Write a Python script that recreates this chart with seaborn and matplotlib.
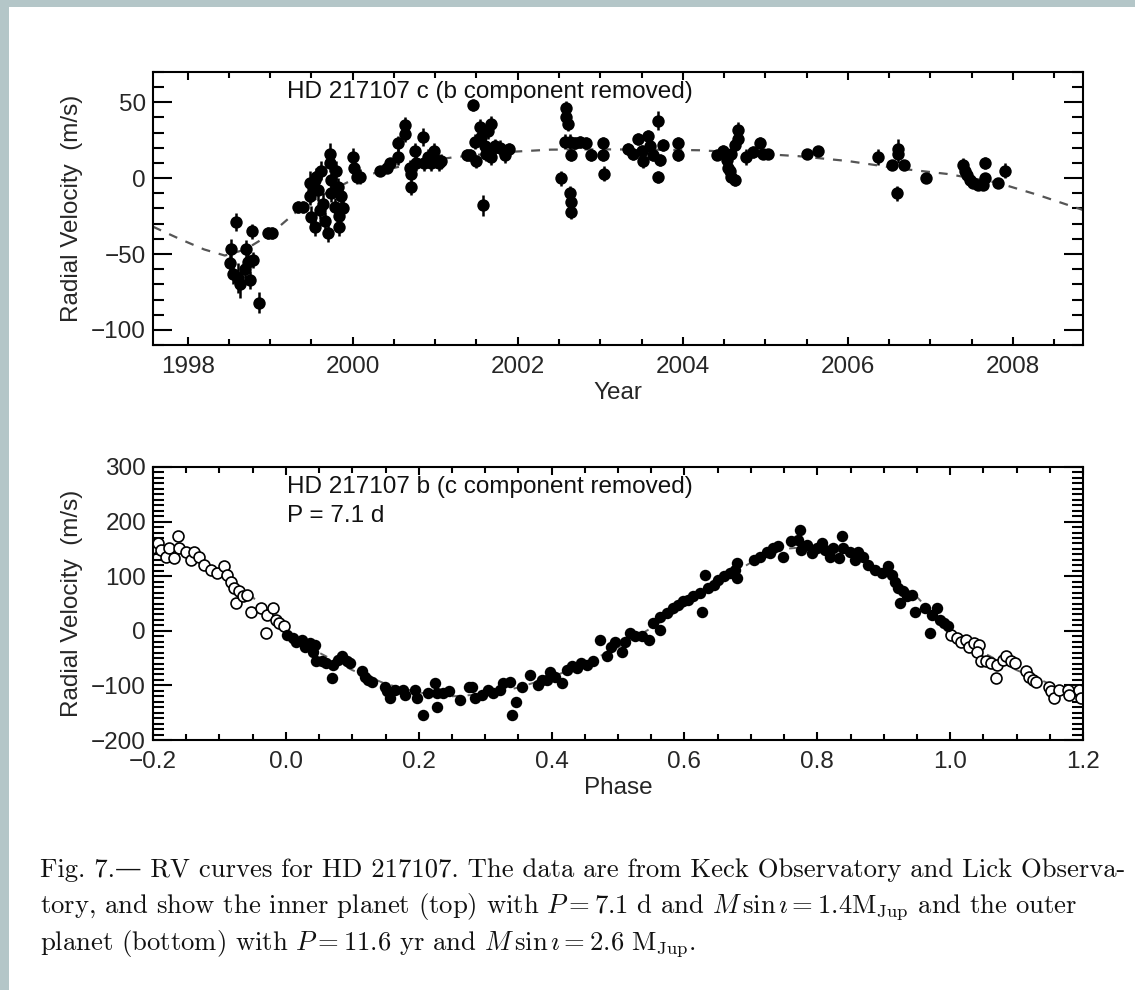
import matplotlib
matplotlib.use("Agg")
import matplotlib.pyplot as plt
from matplotlib.patches import Rectangle
from matplotlib.ticker import MultipleLocator
import seaborn as sns
import pandas as pd

# ---- top panel: HD 217107 c (years, m/s, error) ----
c_year = [1998.58, 1998.53, 1998.51, 1998.55, 1998.61, 1998.63, 1998.71, 1998.73, 1998.69, 1998.75,
          1998.79, 1998.78, 1998.87, 1998.97, 1999.02,
          1999.34, 1999.40, 1999.48, 1999.48, 1999.50, 1999.54, 1999.56, 1999.58, 1999.60, 1999.62,
          1999.64, 1999.66, 1999.70, 1999.72, 1999.72, 1999.74, 1999.74, 1999.78, 1999.80, 1999.82,
          1999.84, 1999.86, 1999.88, 1999.84, 1999.54, 1999.52, 2000.00, 2000.02, 2000.05, 2000.09,
          2000.33, 2000.41, 2000.45, 2000.55, 2000.55, 2000.63, 2000.63, 2000.69, 2000.71, 2000.71,
          2000.75, 2000.77, 2000.85, 2000.87, 2000.91, 2000.95, 2000.99, 2001.01, 2001.05, 2001.07,
          2001.38,
          2001.46, 2001.42, 2001.50, 2001.54, 2001.56, 2001.60, 2001.62, 2001.64, 2001.68, 2001.68,
          2001.58, 2001.72, 2001.78, 2001.84, 2001.90, 2001.48,
          2002.59, 2002.59, 2002.61, 2002.57, 2002.63, 2002.69, 2002.65, 2002.53, 2002.63, 2002.65,
          2002.65, 2002.75, 2002.83, 2002.89, 2003.03, 2003.03, 2003.05,
          2003.34, 2003.40, 2003.46, 2003.50, 2003.52, 2003.58, 2003.60, 2003.64, 2003.70, 2003.70,
          2003.72, 2003.76, 2003.94, 2003.94,
          2004.41, 2004.49, 2004.53, 2004.55, 2004.57, 2004.59, 2004.63, 2004.59, 2004.63, 2004.67,
          2004.67, 2004.77, 2004.85, 2004.93, 2004.97, 2005.03,
          2005.50, 2005.64, 2006.37, 2006.61, 2006.61, 2006.53, 2006.68, 2006.59, 2006.95, 2007.40,
          2007.42, 2007.44, 2007.48, 2007.52, 2007.58, 2007.64, 2007.66, 2007.66, 2007.82, 2007.90]
c_rv = [-29, -47, -56, -63, -66, -70, -47, -55, -60, -67,
        -54, -35, -82, -36, -36,
        -19, -19, -3.5, -12, -25.5, -32, 1, -8, -21, 5,
        -17, -28, -36, 16, 10, -1, -10, -19, 5, -6,
        -25, -12, -20, -32, -1, -8, 14, 7, 1, 1,
        5, 7, 10, 14, 23, 35, 29, 7, 3, -6,
        18, 10, 27, 10, 14, 10, 18, 12, 10, 11,
        15,
        48, 15, 11, 34, 27, 21, 16, 31, 14, 36,
        -18, 21, 20, 15, 19, 24,
        46, 40, 36, 24, 24, 23, 15, 0, -10, -16,
        -22, 24, 23, 15, 23, 15, 3,
        19.5, 16, 26, 18, 11, 28, 21, 15, 38, 1,
        12, 22, 23, 15,
        15, 18, 12, 7, 5, 1, -1, 16, 22, 32,
        26, 14, 17, 23, 16, 16,
        16, 18, 14, 19.5, 16, 9, 9, -10, 0, 9,
        5, 2, -1, -3.5, -4.5, -4.5, 10, 0, -3.5, 5]
c_err = [6, 7, 6, 7, 10, 9, 6, 7, 6, 6,
         5, 5, 7, 4, 4,
         4, 4, 8, 6, 7, 6, 6, 7, 6, 6,
         7, 6, 6, 7, 6, 6, 6, 6, 6, 6,
         7, 6, 6, 6, 6, 6, 6, 6, 5, 5,
         3, 3, 3, 5, 5, 5, 5, 5, 5, 5,
         5, 5, 6, 5, 5, 5, 5, 5, 5, 5,
         4,
         4, 4, 4, 5, 5, 5, 5, 5, 5, 5,
         7, 5, 5, 5, 4, 5,
         5, 5, 5, 5, 5, 4, 4, 5, 5, 5,
         5, 4, 4, 4, 4, 4, 5,
         4, 4, 4, 4, 4, 4, 4, 4, 6, 4,
         4, 4, 4, 4,
         3, 4, 4, 4, 4, 4, 4, 4, 5, 5,
         5, 5, 4, 4, 3, 3,
         3, 3, 5, 6, 6, 3, 3, 5, 3, 4,
         3, 3, 3, 3, 3, 3, 4, 3, 3, 5]

# long-period fit
c_fit_year = [1997.58, 1997.9, 1998.2, 1998.45, 1998.7, 1999.0, 1999.3, 1999.6, 2000.0, 2000.4,
              2000.8, 2001.2, 2001.8, 2002.4, 2003.0, 2003.6, 2004.2, 2004.8, 2005.4, 2006.0,
              2006.6, 2007.2, 2007.8, 2008.3, 2008.85]
c_fit_rv = [-32, -40, -47, -51, -47, -37, -23, -12, -1, 5.5,
            10.5, 13.6, 17, 18.8, 19, 18.8, 18.4, 16.5, 14.5, 11.3,
            6.5, 2.8, -2.8, -11, -21]

# ---- bottom panel: HD 217107 b phased (phase, m/s) ----
b_phase = [0.001, 0.010, 0.016, 0.024, 0.029, 0.036, 0.044, 0.041, 0.046, 0.054,
           0.061, 0.069, 0.071, 0.079, 0.084, 0.092, 0.097, 0.114, 0.119, 0.124,
           0.129, 0.149, 0.152, 0.157, 0.164, 0.177, 0.179, 0.194, 0.197, 0.207,
           0.214, 0.225, 0.227, 0.227, 0.237, 0.245, 0.262, 0.275, 0.280, 0.285,
           0.295, 0.305, 0.312, 0.322, 0.327, 0.337, 0.340, 0.347, 0.355, 0.368,
           0.380, 0.385, 0.393, 0.397, 0.405, 0.415, 0.423, 0.430, 0.438, 0.445,
           0.453, 0.463, 0.473, 0.483, 0.490, 0.495, 0.506, 0.511, 0.518, 0.526,
           0.536, 0.546, 0.553, 0.563, 0.563, 0.573, 0.583, 0.591, 0.598, 0.606,
           0.613, 0.623, 0.626, 0.631, 0.636, 0.644, 0.651, 0.659, 0.669, 0.676,
           0.679, 0.679, 0.704, 0.714, 0.724, 0.734, 0.741, 0.729, 0.749, 0.761,
           0.774, 0.771, 0.776, 0.784, 0.792, 0.799, 0.807, 0.812, 0.819, 0.824,
           0.832, 0.837, 0.839, 0.849, 0.857, 0.862, 0.869, 0.877, 0.887, 0.897,
           0.907, 0.912, 0.917, 0.922, 0.925, 0.929, 0.935, 0.942, 0.947, 0.962,
           0.970, 0.972, 0.980, 0.985, 0.990, 0.997]
b_rv = [-7, -14, -20, -16, -29, -22, -26, -38, -56, -56,
        -59, -87, -62, -53, -47, -56, -59, -74, -84, -90,
        -93, -102, -111, -123, -108, -108, -117, -108, -123, -154,
        -114, -96, -114, -139, -114, -111, -126, -102, -102, -123,
        -117, -108, -114, -108, -96, -93, -154, -130, -102, -81,
        -99, -90, -90, -75, -84, -96, -71, -65, -68, -59,
        -62, -56, -16, -47, -29, -20, -38, -20, -4, -10,
        -10, -16, 14, 2, 26, 32, 42, 48, 54, 57,
        63, 69, 35, 103, 78, 84, 93, 100, 106, 112,
        97, 124, 130, 136, 145, 152, 155, 142, 136, 164,
        185, 167, 148, 158, 142, 152, 161, 148, 136, 152,
        133, 173, 152, 145, 130, 145, 136, 121, 112, 106,
        118, 103, 90, 78, 51, 72, 63, 66, 35, 42,
        -4, 29, 42, 20, 14, 8]

b_fit_phase = [0.0, 0.05, 0.1, 0.15, 0.2, 0.25, 0.3, 0.35, 0.4, 0.45, 0.5,
               0.55, 0.6, 0.65, 0.7, 0.75, 0.8, 0.85, 0.9, 0.95, 1.0]
b_fit_rv = [-3, -40, -72, -97, -113, -120, -116, -104, -85, -60, -30,
            5, 45, 88, 125, 150, 155, 140, 108, 62, -3]

caption = [
    "Fig. 7.— RV curves for HD 217107. The data are from Keck Observatory and Lick Observa-",
    r"tory, and show the inner planet (top) with $P = 7.1$ d and $M\,\sin\imath = 1.4\mathrm{M}_{\mathrm{Jup}}$ and the outer",
    r"planet (bottom) with $P = 11.6$ yr and $M\,\sin\imath = 2.6\ \mathrm{M}_{\mathrm{Jup}}$.",
]

sns.set_theme(style="ticks")
plt.rcParams["font.family"] = ["Liberation Sans", "DejaVu Sans"]
plt.rcParams["mathtext.fontset"] = "cm"
plt.rcParams["axes.linewidth"] = 1.5
plt.rcParams["text.color"] = "#111111"

top = pd.DataFrame({"year": c_year, "rv": c_rv, "err": c_err})
top_fit = pd.DataFrame({"year": c_fit_year, "rv": c_fit_rv})
bot = pd.DataFrame({"phase": b_phase, "rv": b_rv})
# repeat the cycle on each side as open circles
wrap = pd.concat([bot.assign(phase=bot.phase - 1), bot.assign(phase=bot.phase + 1)])
bfit = pd.DataFrame({"phase": b_fit_phase, "rv": b_fit_rv})
bfit = pd.concat([bfit.assign(phase=bfit.phase - 1), bfit, bfit.assign(phase=bfit.phase + 1)])
bfit = bfit[(bfit.phase >= -0.2) & (bfit.phase <= 1.2)]

fig = plt.figure(figsize=(11.35, 9.9), dpi=100)
fig.add_artist(Rectangle((0, 0), 9 / 1135, 1, transform=fig.transFigure, color="#b4c6c8", lw=0))
fig.add_artist(Rectangle((0, 1 - 7 / 990), 1, 7 / 990, transform=fig.transFigure, color="#b4c6c8", lw=0))

ax1 = fig.add_axes([0.1348, 0.6515, 0.8194, 0.2758])
ax2 = fig.add_axes([0.1348, 0.2525, 0.8194, 0.2758])

FS = 17.5

# top panel
sns.lineplot(data=top_fit, x="year", y="rv", ax=ax1, color="#555555", lw=1.6,
             linestyle=(0, (4, 4)), sort=False, zorder=1)
ax1.errorbar(top.year, top.rv, yerr=top.err, fmt="none", ecolor="black", elinewidth=1.8, zorder=2)
sns.scatterplot(data=top, x="year", y="rv", ax=ax1, color="black", edgecolor="black",
                s=80, linewidth=0, zorder=3)
ax1.set_xlim(1997.58, 2008.85)
ax1.set_ylim(-110, 70)
ax1.xaxis.set_major_locator(MultipleLocator(2))
ax1.xaxis.set_minor_locator(MultipleLocator(0.5))
ax1.yaxis.set_major_locator(MultipleLocator(50))
ax1.yaxis.set_minor_locator(MultipleLocator(10))
ax1.set_xlabel("Year", fontsize=FS, labelpad=3)
ax1.set_ylabel("Radial Velocity  (m/s)", fontsize=FS, labelpad=6)
ax1.text(0.144, 0.925, "HD 217107 c (b component removed)", transform=ax1.transAxes,
         fontsize=FS, va="center", ha="left")

# bottom panel
sns.lineplot(data=bfit, x="phase", y="rv", ax=ax2, color="#666666", lw=1.4,
             linestyle=(0, (4, 4)), sort=False, zorder=1)
sns.scatterplot(data=wrap, x="phase", y="rv", ax=ax2, facecolor="white", edgecolor="black",
                s=62, linewidth=1.2, zorder=2)
sns.scatterplot(data=bot, x="phase", y="rv", ax=ax2, color="black", edgecolor="black",
                s=68, linewidth=0, zorder=3)
ax2.set_xlim(-0.2, 1.2)
ax2.set_ylim(-200, 300)
ax2.xaxis.set_major_locator(MultipleLocator(0.2))
ax2.xaxis.set_minor_locator(MultipleLocator(0.05))
ax2.yaxis.set_major_locator(MultipleLocator(100))
ax2.yaxis.set_minor_locator(MultipleLocator(10))
ax2.set_xlabel("Phase", fontsize=FS, labelpad=3)
ax2.set_ylabel("Radial Velocity  (m/s)", fontsize=FS, labelpad=6)
ax2.text(0.144, 0.925, "HD 217107 b (c component removed)", transform=ax2.transAxes,
         fontsize=FS, va="center", ha="left")
ax2.text(0.144, 0.822, "P = 7.1 d", transform=ax2.transAxes,
         fontsize=FS, va="center", ha="left")

for ax in (ax1, ax2):
    for sp in ax.spines.values():
        sp.set_visible(True)
        sp.set_linewidth(1.5)
        sp.set_color("black")
    ax.tick_params(which="both", direction="in", top=True, right=True,
                   labelsize=FS, color="black", width=1.5)
    ax.tick_params(axis="x", which="major", length=6, pad=8)
    ax.tick_params(axis="x", which="minor", length=4.5)
    ax.tick_params(axis="y", which="major", length=14, pad=5)
    ax.tick_params(axis="y", which="minor", length=8)

ypos = [877, 913, 950]
for line, yp in zip(caption, ypos):
    fig.text(40 / 1135, 1 - yp / 990, line, ha="left", va="baseline",
             family=["cmr10", "DejaVu Serif"], fontsize=19.2, color="#111111")

fig.savefig("out.png", dpi=100, facecolor="white")
